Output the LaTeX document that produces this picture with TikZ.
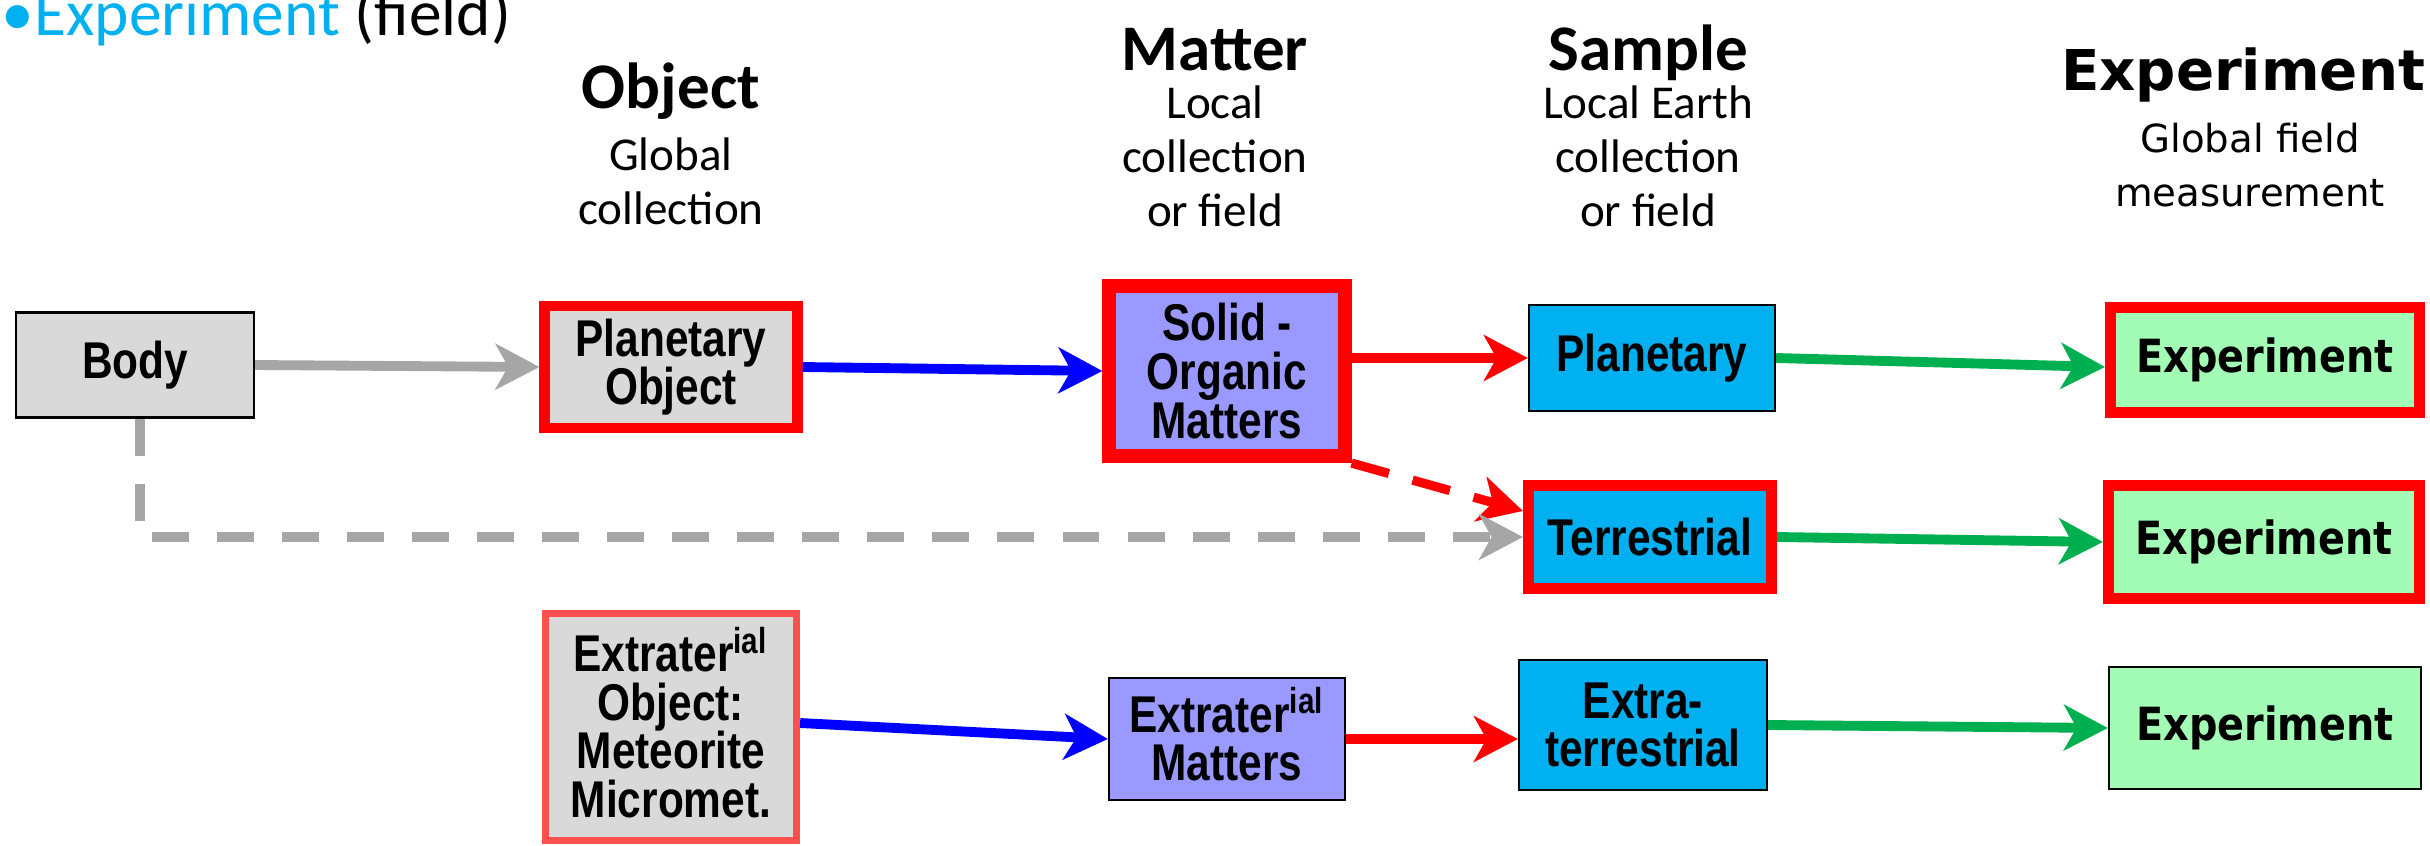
\documentclass[tikz,border=0pt]{standalone}
\usepackage{fontspec}
\setmainfont{Carlito}
\newfontfamily\boxfont[FakeStretch=0.82]{Liberation Sans}
\newfontfamily\expfont{DejaVu Sans}
\newfontfamily\expboxfont[FakeStretch=0.87]{DejaVu Sans}
\usetikzlibrary{arrows.meta}
\definecolor{boxgray}{HTML}{D9D9D9}
\definecolor{lavender}{HTML}{9999FF}
\definecolor{skyc}{HTML}{00B0F0}
\definecolor{mint}{HTML}{A2FCB5}
\definecolor{arrgreen}{HTML}{00B050}
\definecolor{arrgray}{HTML}{A6A6A6}
\definecolor{softred}{HTML}{FF5050}

\begin{document}
\begin{tikzpicture}[x=0.01cm, y=-0.01cm]
\useasboundingbox (0,0) rectangle (2430,845);

\tikzset{
  box/.style={draw=black, line width=0.6pt, inner sep=0pt, align=center,
    font=\boxfont\bfseries\fontsize{14.7}{13.8}\selectfont},
  redbox/.style={box, draw=red, line width=3.1pt},
  expbox/.style={box, fill=mint, font=\expboxfont\bfseries\fontsize{13}{14}\selectfont},
  arr/.style={-{Stealth[length=12.5pt,width=13pt,inset=3.6pt]}, line width=2.8pt},
  hdrtitle/.style={anchor=base, inner sep=0pt, font=\bfseries\fontsize{18.5}{20}\selectfont},
  hdr/.style={anchor=base, inner sep=0pt, font=\fontsize{13.4}{15}\selectfont},
}

% bullet line, cut at the top
\node[anchor=base, inner sep=0pt, font=\fontsize{18.6}{20}\selectfont, skyc] (bul) at (18,35) {•};
\node[anchor=base west, inner sep=0pt, font=\fontsize{18.6}{20}\selectfont] (bultxt) at (34,35)
  {\textcolor{skyc}{Experiment} (field)};

% column headers
\node[hdrtitle] (hobj) at (671,108) {Object};
\node[hdr] (hobj1) at (671,170) {Global};
\node[hdr] (hobj2) at (671,224) {collection};

\node[hdrtitle] (hmat) at (1215,70) {Matter};
\node[hdr] (hmat1) at (1215,118) {Local};
\node[hdr] (hmat2) at (1215,172) {collection};
\node[hdr] (hmat3) at (1215,226) {or field};

\node[hdrtitle] (hsam) at (1648,70) {Sample};
\node[hdr] (hsam1) at (1648,118) {Local Earth};
\node[hdr] (hsam2) at (1648,172) {collection};
\node[hdr] (hsam3) at (1648,226) {or field};

\node[hdrtitle, font=\expfont\bfseries\fontsize{16}{18}\selectfont] (hexp) at (2243,90) {Experiment};
\node[hdr, font=\expfont\fontsize{11}{13}\selectfont] (hexp1) at (2250,152) {Global field};
\node[hdr, font=\expfont\fontsize{11}{13}\selectfont] (hexp2) at (2250,206) {measurement};

% boxes
\node[box, fill=boxgray, minimum width=2.38cm, minimum height=1.05cm] (body) at (135,365) {Body};
\node[redbox, fill=boxgray, minimum width=2.52cm, minimum height=1.22cm] (planobj) at (671,367) {Planetary\\Object};
\node[redbox, fill=lavender, line width=4pt, minimum width=2.35cm, minimum height=1.70cm] (solid) at (1227,371) {Solid -\\Organic\\Matters};
\node[box, fill=skyc, minimum width=2.46cm, minimum height=1.06cm] (plansam) at (1652,358) {Planetary};
\node[expbox, draw=red, line width=3.1pt, minimum width=3.09cm, minimum height=1.05cm] (exp1) at (2265,360) {Experiment};

\node[redbox, fill=skyc, minimum width=2.43cm, minimum height=1.03cm] (terr) at (1650,537) {Terrestrial};
\node[expbox, draw=red, line width=3.1pt, minimum width=3.11cm, minimum height=1.13cm] (exp2) at (2264,542) {Experiment};

\node[box, fill=boxgray, draw=softred, line width=2pt, minimum width=2.51cm, minimum height=2.26cm] (extobj) at (671,727) {Extrater\smash{\textsuperscript{ial}}\\Object:\\Meteorite\\Micromet.};
\node[box, fill=lavender, minimum width=2.36cm, minimum height=1.22cm] (extmat) at (1227,739) {Extrater\smash{\textsuperscript{ial}}\\Matters};
\node[box, fill=skyc, minimum width=2.48cm, minimum height=1.30cm] (extsam) at (1643,725) {Extra-\\terrestrial};
\node[expbox, minimum width=3.12cm, minimum height=1.22cm] (exp3) at (2265,728) {Experiment};

% connectors
\path (body.east) edge [arr, arrgray] (planobj.west);
\path (planobj.east) edge [arr, blue] (solid.west);
\path (solid.east |- plansam.west) edge [arr, red] (plansam.west);
\path (plansam.east) edge [arr, arrgreen] ([yshift=-0.07cm]exp1.west);
\path (solid.south east) edge [arr, red, line width=2.6pt, dash pattern=on 11pt off 7pt] ([yshift=0.26cm]terr.west);
\draw [arr, arrgray, dash pattern=on 10.5pt off 8pt] ([xshift=0.05cm]body.south) |- (terr.west);
\path (terr.east) edge [arr, arrgreen] (exp2.west);
\path ([yshift=0.04cm]extobj.east) edge [arr, blue] (extmat.west);
\path (extmat.east) edge [arr, red] (extmat.east -| extsam.west);
\path (extsam.east) edge [arr, arrgreen] (exp3.west);
\end{tikzpicture}
\end{document}
